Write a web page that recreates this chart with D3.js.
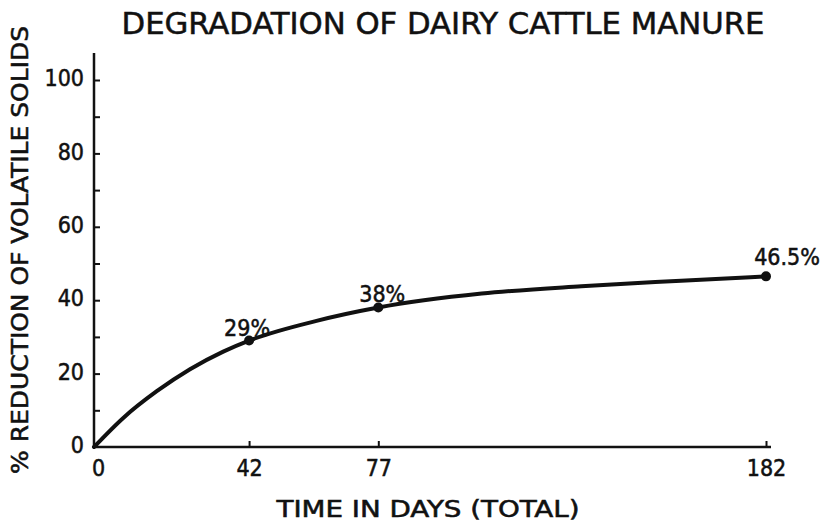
<!DOCTYPE html>
<html>
<head>
<meta charset="utf-8">
<script src="https://cdn.jsdelivr.net/npm/d3@7"></script>
<style>
  body { margin: 0; background: #fff; }
  svg text { font-family: "DejaVu Sans Condensed", "DejaVu Sans", sans-serif; fill: #111; stroke: #111; stroke-width: 0.5px; }
</style>
</head>
<body>
<svg id="chart" width="825" height="521"></svg>
<script>
// measured points (days, % reduction)
let days = [42, 77, 182];
let pct = [29, 38, 46.5];
let pct_labels = ['29%', '38%', '46.5%'];

// curve
let curve_days = [0, 8, 17, 26, 35, 42, 60, 77, 105, 132, 159, 182];
let curve_pct = [0, 8, 15.2, 21.2, 26, 29, 34.3, 38, 41.8, 43.8, 45.3, 46.5];

let x_ticks = [0, 42, 77, 182];
let y_ticks = [0, 20, 40, 60, 80, 100];
let y_minor = [10, 30, 50, 70, 90];

let width = 825, height = 521;
let svg = d3.select('#chart');
let ink = '#111';

let x = d3.scaleLinear().domain([0, 182]).range([94, 766]);
let y = d3.scaleLinear().domain([0, 100]).range([447, 80]);

// axis lines
svg.append('line')
    .attr('x1', x(0)).attr('x2', x(0))
    .attr('y1', y(0) + 1).attr('y2', 53)
    .attr('stroke', ink).attr('stroke-width', 2.5);
svg.append('line')
    .attr('x1', x(0)).attr('x2', 771)
    .attr('y1', y(0)).attr('y2', y(0))
    .attr('stroke', ink).attr('stroke-width', 2.5);

// y axis (ticks point inward)
let axis_y = d3.axisLeft(y)
    .tickValues(y_ticks)
    .tickSizeInner(-6)
    .tickSizeOuter(0)
    .tickPadding(10)
    .tickFormat(d => d);
let gy = svg.append('g')
    .attr('transform', `translate(${x(0)},0)`)
    .call(axis_y);
gy.select('.domain').remove();
gy.selectAll('line').attr('stroke', ink).attr('stroke-width', 2);
gy.selectAll('line').filter(d => d === 0).remove();
gy.selectAll('text')
    .attr('font-size', '23px')
    .attr('fill', ink)
    .attr('dy', '0.25em');

let gy_minor = svg.append('g')
    .attr('transform', `translate(${x(0)},0)`)
    .call(d3.axisLeft(y).tickValues(y_minor).tickSizeInner(-6).tickSizeOuter(0).tickFormat(''));
gy_minor.select('.domain').remove();
gy_minor.selectAll('line').attr('stroke', ink).attr('stroke-width', 2);

// x axis (ticks point upward)
let axis_x = d3.axisBottom(x)
    .tickValues(x_ticks)
    .tickSizeInner(-6)
    .tickSizeOuter(0)
    .tickPadding(13)
    .tickFormat(d => d);
let gx = svg.append('g')
    .attr('transform', `translate(0,${y(0)})`)
    .call(axis_x);
gx.select('.domain').remove();
gx.selectAll('line').attr('stroke', ink).attr('stroke-width', 2);
gx.selectAll('line').filter(d => d === 0).remove();
gx.selectAll('text')
    .attr('font-size', '23px')
    .attr('fill', ink)
    .attr('dy', '0.71em');
gx.selectAll('text').filter(d => d === 0).attr('dx', 4);

// curve
let line = d3.line()
    .x(d => x(d[0]))
    .y(d => y(d[1]))
    .curve(d3.curveMonotoneX);
svg.append('path')
    .datum(d3.zip(curve_days, curve_pct))
    .attr('d', line)
    .attr('fill', 'none')
    .attr('stroke', ink)
    .attr('stroke-width', 4)
    .attr('stroke-linecap', 'round');

// points
svg.append('g')
    .selectAll('circle')
    .data(d3.zip(days, pct))
    .enter().append('circle')
    .attr('cx', d => x(d[0]))
    .attr('cy', d => y(d[1]))
    .attr('r', 5)
    .attr('fill', ink);

// point labels
let label_dx = [-2, 4, 21];
let label_dy = [-5, -6, -11];
svg.append('g')
    .selectAll('text')
    .data(d3.zip(days, pct, pct_labels))
    .enter().append('text')
    .attr('x', (d, i) => x(d[0]) + label_dx[i])
    .attr('y', (d, i) => y(d[1]) + label_dy[i])
    .attr('text-anchor', 'middle')
    .attr('font-size', '23px')
    .text(d => d[2]);

// title
svg.append('text')
    .attr('x', 443).attr('y', 34)
    .attr('text-anchor', 'middle')
    .attr('font-size', '31px')
    .attr('textLength', 643)
    .attr('lengthAdjust', 'spacingAndGlyphs')
    .text('DEGRADATION  OF  DAIRY  CATTLE  MANURE');

// x label
svg.append('text')
    .attr('x', 428).attr('y', 517)
    .attr('text-anchor', 'middle')
    .attr('font-size', '23px')
    .attr('textLength', 303)
    .attr('lengthAdjust', 'spacingAndGlyphs')
    .text('TIME  IN  DAYS  (TOTAL)');

// y label
svg.append('text')
    .attr('transform', 'translate(28, 250) rotate(-90)')
    .attr('text-anchor', 'middle')
    .attr('font-size', '23px')
    .attr('textLength', 448)
    .attr('lengthAdjust', 'spacingAndGlyphs')
    .text('% REDUCTION OF VOLATILE SOLIDS');
</script>
</body>
</html>
